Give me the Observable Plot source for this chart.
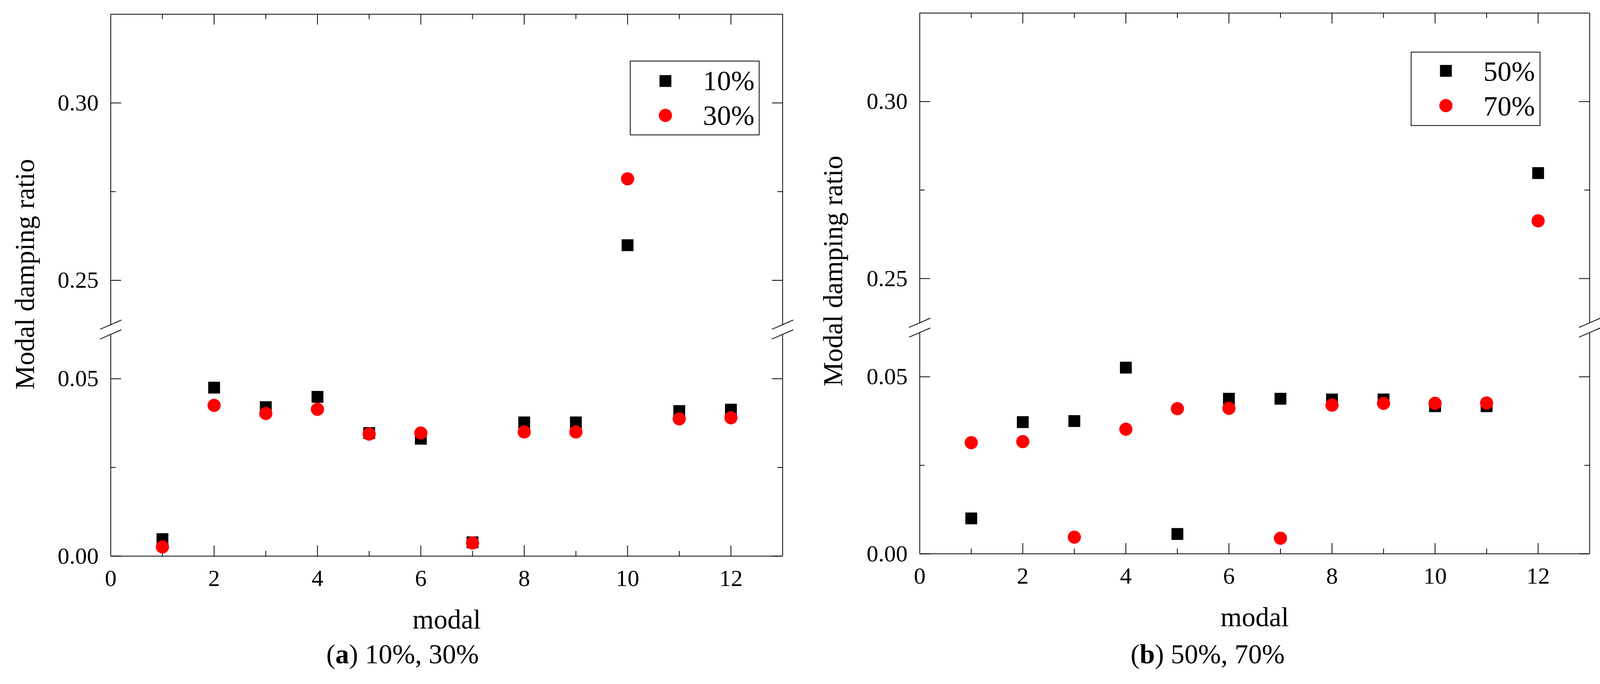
<!DOCTYPE html>
<html>
<head>
<meta charset="utf-8">
<script src="https://cdn.jsdelivr.net/npm/d3@7"></script>
<script src="https://cdn.jsdelivr.net/npm/@observablehq/plot@0.6"></script>
<style>
  html, body { margin: 0; padding: 0; background: #fff; }
  #wrap { display: flex; width: 4122px; height: 1752px; }
  .panel { width: 2061px; height: 1752px; position: relative; }
  .panel svg { display: block; overflow: visible; }
  .cap { position: absolute; left: 0; width: 2061px; top: 1638px; line-height: 76px;
         text-align: center; font-family: "Liberation Serif", serif; font-size: 70px; color: #000; }
</style>
</head>
<body>
<div id="wrap">
  <div class="panel" id="pa"></div>
  <div class="panel" id="pb"></div>
</div>
<script>
// ---- data ----
const modal = [1, 2, 3, 4, 5, 6, 7, 8, 9, 10, 11, 12];
const ratio10 = [0.0048, 0.0475, 0.0420, 0.0449, 0.0347, 0.0331, 0.0039, 0.0377, 0.0377, 0.2599, 0.0409, 0.0413];
const ratio30 = [0.0026, 0.0425, 0.0402, 0.0414, 0.0344, 0.0347, 0.0037, 0.0350, 0.0350, 0.2786, 0.0387, 0.0390];
const ratio50 = [0.0100, 0.0372, 0.0375, 0.0526, 0.0056, 0.0438, 0.0438, 0.0436, 0.0436, 0.0417, 0.0417, 0.2798];
const ratio70 = [0.0314, 0.0317, 0.0047, 0.0352, 0.0410, 0.0411, 0.0044, 0.0420, 0.0425, 0.0425, 0.0426, 0.2663];
const seriesNames = ["10%", "30%", "50%", "70%"];
const yTicksMajor = [0, 0.05, 0.25, 0.30];
const yTicksMinor = [0.025, 0.275];
const xTicksMajor = [0, 2, 4, 6, 8, 10, 12];
const xTicksMinor = [1, 3, 5, 7, 9, 11];
const yBreak = [0.0625, 0.2375];
const yMax = 0.325;
const xMax = 13;
const captions = ["a", "b"];
const captionRest = [" 10%, 30%", " 50%, 70%"];

const font = "Liberation Serif, Times New Roman, serif";
const slash = { draw(context, l) { context.moveTo(0, 0); context.lineTo(0, -l); } };
const fmt2 = d3.format(".2f");

function panel(cfg) {
  const W = 2061, H = 1620;
  const {top, bottom, mL, mR, gap} = cfg;
  const k = (bottom - top - gap) / (yBreak[0] + (yMax - yBreak[1]));
  const g = gap / k;
  // axis-break transform of data values (the scale then maps them to pixels)
  const brk = v => v <= yBreak[0] ? v
    : v >= yBreak[1] ? v - yBreak[1] + yBreak[0] + g
    : yBreak[0] + g * (v - yBreak[0]) / (yBreak[1] - yBreak[0]);
  const frameW = W - mL - mR, frameH = bottom - top;
  const rowsA = modal.map((m, i) => ({modal: m, value: cfg.a[i]}));
  const rowsB = modal.map((m, i) => ({modal: m, value: cfg.b[i]}));
  const breaks = [];
  for (const x of [0, xMax]) for (const y of yBreak) breaks.push({x, y});
  const maj = 27, mnr = 13, sw = 2;
  return Plot.plot({
    width: W, height: H,
    marginTop: top, marginBottom: H - bottom, marginLeft: mL, marginRight: mR,
    style: {fontFamily: font, fontSize: "60px", background: "white", color: "black"},
    x: {domain: [0, xMax]},
    y: {domain: [0, brk(yMax)], axis: null},
    marks: [
      // frame (top & bottom) and broken sides
      Plot.ruleY([yMax, 0], {y: brk, stroke: "black", strokeWidth: sw}),
      Plot.ruleX([0, xMax], {y1: brk(0), y2: brk(yBreak[0]), stroke: "black", strokeWidth: sw}),
      Plot.ruleX([0, xMax], {y1: brk(yBreak[1]), y2: brk(yMax), stroke: "black", strokeWidth: sw}),
      Plot.vector(breaks, {x: "x", y: d => brk(d.y), length: 58, rotate: 66.5, anchor: "middle", shape: slash, stroke: "black", strokeWidth: sw}),
      // inward ticks
      Plot.ruleY(yTicksMajor, {y: brk, insetRight: frameW - maj, stroke: "black", strokeWidth: sw}),
      Plot.ruleY(yTicksMajor, {y: brk, insetLeft: frameW - maj, stroke: "black", strokeWidth: sw}),
      Plot.ruleY(yTicksMinor, {y: brk, insetRight: frameW - mnr, stroke: "black", strokeWidth: sw}),
      Plot.ruleY(yTicksMinor, {y: brk, insetLeft: frameW - mnr, stroke: "black", strokeWidth: sw}),
      Plot.ruleX(xTicksMajor.filter(d => d > 0), {insetTop: frameH - maj, stroke: "black", strokeWidth: sw}),
      Plot.ruleX(xTicksMajor.filter(d => d > 0), {insetBottom: frameH - maj, stroke: "black", strokeWidth: sw}),
      Plot.ruleX(xTicksMinor, {insetTop: frameH - mnr, stroke: "black", strokeWidth: sw}),
      Plot.ruleX(xTicksMinor, {insetBottom: frameH - mnr, stroke: "black", strokeWidth: sw}),
      // tick labels
      Plot.text(yTicksMajor, {y: brk, text: d => fmt2(d), frameAnchor: "left", dx: -31, textAnchor: "end", lineAnchor: "middle", fontSize: 60}),
      Plot.axisX(xTicksMajor, {tickSize: 0, tickPadding: 34, tickFormat: d3.format("d"), fontSize: 60, label: null}),
      // axis titles
      Plot.text(["modal"], {frameAnchor: "bottom", dy: 185, lineAnchor: "bottom", fontSize: 70}),
      Plot.text(["Modal damping ratio"], {frameAnchor: "left", dx: -(mL - cfg.ylabX), dy: cfg.ylabDy, rotate: -90,
        textAnchor: "middle", lineAnchor: "middle", fontSize: 70}),
      // data
      Plot.dot(rowsA, {x: "modal", y: d => brk(d.value), symbol: "square", r: 17.1, fill: "black", stroke: null}),
      Plot.dot(rowsB, {x: "modal", y: d => brk(d.value), symbol: "circle", r: 16.9, fill: "#ff0000", stroke: null}),
      // legend
      Plot.frame({insetLeft: cfg.lg.l, insetRight: cfg.lg.r, insetTop: cfg.lg.t, insetBottom: cfg.lg.b, stroke: "black", strokeWidth: sw}),
      Plot.dot([cfg.nameA], {frameAnchor: "top-left", dx: cfg.lg.sx, dy: cfg.lg.sy1, symbol: "square", r: 17.1, fill: "black"}),
      Plot.dot([cfg.nameB], {frameAnchor: "top-left", dx: cfg.lg.sx, dy: cfg.lg.sy2, symbol: "circle", r: 16.9, fill: "#ff0000"}),
      Plot.text([cfg.nameA], {text: d => d, frameAnchor: "top-left", dx: cfg.lg.tx, dy: cfg.lg.ty1, textAnchor: "end", lineAnchor: "middle", fontSize: 72}),
      Plot.text([cfg.nameB], {text: d => d, frameAnchor: "top-left", dx: cfg.lg.tx, dy: cfg.lg.ty2, textAnchor: "end", lineAnchor: "middle", fontSize: 72})
    ]
  });
}

function caption(letter, rest) {
  const div = document.createElement("div");
  div.className = "cap";
  div.append("(");
  const b = document.createElement("b");
  b.textContent = letter;
  div.append(b, ")" + rest);
  return div;
}

const pa = document.getElementById("pa");
pa.append(panel({
  top: 36, bottom: 1424, mL: 283, mR: 58, gap: 25, ylabX: 64, ylabDy: -28,
  a: ratio10, b: ratio30, nameA: seriesNames[0], nameB: seriesNames[1],
  lg: {l: 1330, r: 60, t: 120, b: 1079, sx: 1420, sy1: 171, sy2: 259, tx: 1648, ty1: 171, ty2: 260}
}));
pa.append(caption(captions[0], captionRest[0]));

const pb = document.getElementById("pb");
pb.append(panel({
  top: 33, bottom: 1418, mL: 293, mR: 53, gap: 25, ylabX: 72, ylabDy: -32,
  a: ratio50, b: ratio70, nameA: seriesNames[2], nameB: seriesNames[3],
  lg: {l: 1258, r: 127, t: 100, b: 1097, sx: 1347, sy1: 148, sy2: 237, tx: 1575, ty1: 150, ty2: 239}
}));
pb.append(caption(captions[1], captionRest[1]));
</script>
</body>
</html>
